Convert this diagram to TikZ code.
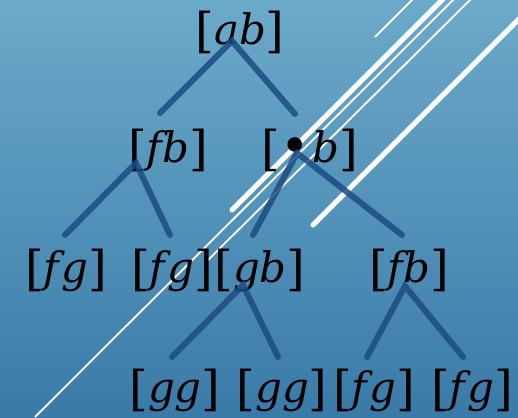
\documentclass[tikz,border=0pt]{standalone}
\usepackage{fontspec}
\setmainfont{DejaVu Serif}
\definecolor{bgtop}{RGB}{108,170,202}
\definecolor{bgbot}{RGB}{58,122,168}
\definecolor{treeblue}{RGB}{28,76,130}
\newcommand{\brk}[1]{\raisebox{-3pt}{\fontsize{48}{52}\selectfont #1}}
\newcommand{\lb}[1]{\brk{[}\textit{#1}\brk{]}}
\begin{document}
\begin{tikzpicture}[x=1pt,y=-1pt,
  lbl/.style={anchor=base,inner sep=0pt,font=\fontsize{42}{48}\selectfont},
  edge/.style={line width=6pt,line cap=round,draw=treeblue,draw opacity=0.85},
  wthick/.style={draw=white,line width=5pt,line cap=round},
  wthin/.style={draw=white,line width=1.8pt}]
\shade[top color=bgtop,bottom color=bgbot] (0,0) rectangle (518,417);
\useasboundingbox (0,0) rectangle (518,417);
\clip (0,0) rectangle (518,417);
% white diagonal lines
\coordinate (w1a) at (35,417);  \coordinate (w1b) at (455,-2);
\coordinate (w2a) at (205,263); \coordinate (w2b) at (472,-2);
\coordinate (w3a) at (232,210); \coordinate (w3b) at (448,-6);
\coordinate (w4a) at (313,225); \coordinate (w4b) at (530,8);
\coordinate (w5a) at (375,37);  \coordinate (w5b) at (416,-4);
\draw[wthin] (w1a) -- (w1b);
\draw[wthin] (w2a) -- (w2b);
\draw[wthick] (w3a) -- (w3b);
\draw[wthick] (w4a) -- (w4b);
\draw[wthin] (w5a) -- (w5b);
% labels
\node[lbl] (ab) at (240,45) {\lb{ab}};
\node[lbl] (fb) at (168,162) {\lb{fb}};
\node[lbl] (db) at (310,162) {\brk{[}\raisebox{-1pt}{\fontsize{50}{56}\selectfont\textbullet}\kern3pt\textit{b}\brk{]}};
\node[lbl] (fg1) at (66,282) {\lb{f\kern2pt g}};
\node[lbl] (fg2) at (172,282) {\lb{f\kern2pt g}};
\node[lbl] (gb) at (260,282) {\lb{gb}};
\node[lbl] (fb2) at (409,282) {\lb{fb}};
\node[lbl] (gg1) at (175,402) {\lb{gg}};
\node[lbl] (gg2) at (282,402) {\lb{gg}};
\node[lbl] (fg3) at (374,402) {\lb{f\kern2pt g}};
\node[lbl] (fg4) at (472,402) {\lb{f\kern2pt g}};
% tree branch points
\coordinate (ab-a) at (232,41);  \coordinate (ab-l) at (160,113); \coordinate (ab-r) at (295,114);
\coordinate (fb-a) at (136,163); \coordinate (fb-l) at (65,235);  \coordinate (fb-r) at (170,235);
\coordinate (db-a) at (297,153); \coordinate (db-l) at (253,235); \coordinate (db-r) at (402,235);
\coordinate (gb-a) at (243,285); \coordinate (gb-l) at (172,357); \coordinate (gb-r) at (278,357);
\coordinate (fb2-a) at (405,286); \coordinate (fb2-l) at (367,357); \coordinate (fb2-r) at (463,357);
\foreach \n in {ab,fb,db,gb,fb2}{
  \draw[edge] (\n-l) -- (\n-a) -- (\n-r);
}
\end{tikzpicture}
\end{document}
